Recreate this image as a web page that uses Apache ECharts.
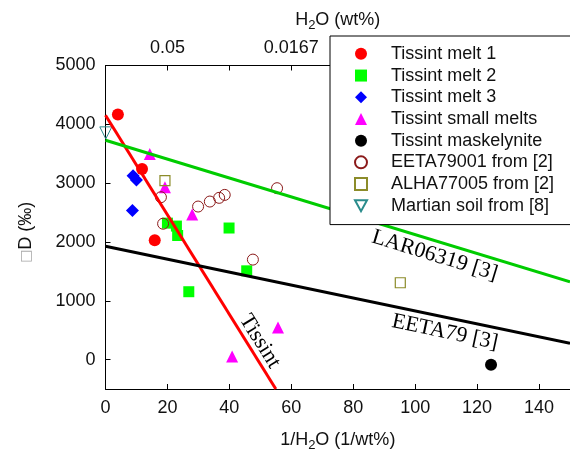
<!DOCTYPE html>
<html><head><meta charset="utf-8">
<script src="https://cdn.jsdelivr.net/npm/echarts@6/dist/echarts.min.js"></script>
<style>html,body{margin:0;padding:0;background:#fff}#c{width:570px;height:457px}</style>
</head><body><div id="c"></div>
<script>
// ---- data (x = 1/H2O in 1/wt%, y = dD in permil) ----
const melt1 = [[4.0,4166],[11.8,3240],[15.9,2027]];
const melt2 = [[20.0,2320],[22.9,2270],[23.3,2110],[39.9,2237],[26.9,1154],[45.6,1509]];
const melt3 = [[8.9,3127],[10.0,3054],[8.7,2535]];
const smallMelts = [[14.3,3494],[19.2,2931],[28.0,2467],[40.9,54],[55.7,545]];
const maskelynite = [[124.5,-88]];
const eeta79001 = [[17.9,2761],[18.6,2310],[29.9,2602],[33.7,2687],[36.7,2750],[38.5,2800],[55.4,2914],[47.6,1700]];
const alha77005 = [[19.2,3042],[95.2,1306]];
const martianSoil = [[0.1,3855]];
const tissintLine = [[0,4154],[55,-500]];
const lar06319Line = [[0,3730],[150,1323]];
const eeta79Line = [[0,1926],[150,279]];
const xTicks = [0,20,40,60,80,100,120,140];
const yTicks = [0,1000,2000,3000,4000,5000];
const topTickValues = [20,40,60,80,100,120,140];
const topLabelValues = [20,60];
const topLabelTexts = ['0.05','0.0167'];
const legendNames = ['Tissint melt 1','Tissint melt 2','Tissint melt 3','Tissint small melts','Tissint maskelynite','EETA79001 from [2]','ALHA77005 from [2]','Martian soil from [8]'];
const lineLabelTexts = ['Tissint','LAR06319 [3]','EETA79 [3]'];
const lineLabelAnchors = [[49.8,313],[106.3,1768],[109.6,465]];

const SANS = '"Liberation Sans", Arial, sans-serif';
const SERIF = '"Liberation Serif", "Times New Roman", serif';
const TXT = '#111';

function scatter(name, data, symbol, size, style) {
  return { type: 'scatter', name, data, symbol, symbolSize: size, itemStyle: Object.assign({ opacity: 1 }, style), z: 3, silent: true };
}
function line(name, data, color) {
  return { type: 'line', name, data, symbol: 'none', lineStyle: { color, width: 3 }, itemStyle: { color }, z: 4, silent: true, animation: false };
}
const lineLabelRot = [-58, -17, -12];
const lineLabels = lineLabelTexts.map((t, i) => ({
  type: 'scatter', name: 'lbl' + i, data: [lineLabelAnchors[i]], symbolSize: 1, itemStyle: { color: 'rgba(0,0,0,0)' }, z: 5, silent: true,
  label: { show: true, position: 'inside', formatter: t, rotate: lineLabelRot[i], fontFamily: SERIF, fontSize: 22, color: '#000', textBorderWidth: 0, opacity: 1 }
}));
const plain = v => String(v);
const mkAxisLine = () => ({ show: true, onZero: false, lineStyle: { color: '#000', width: 1 } });
const mkTick = vals => ({ show: true, inside: true, length: 5, customValues: vals, lineStyle: { color: '#000', width: 1 } });

const chart = echarts.init(document.getElementById('c'), null, { renderer: 'canvas' });
chart.setOption({
  animation: false,
  backgroundColor: '#fff',
  grid: { left: 105.5, right: -1, top: 65.5, bottom: 65.5, containLabel: false },
  legend: {
    data: legendNames, orient: 'vertical', left: 330, top: 36,
    padding: [7, 40, 8, 24], itemWidth: 12, itemHeight: 12, itemGap: 0,
    backgroundColor: '#fff', borderColor: '#000', borderWidth: 1, borderRadius: 0,
    selectedMode: false, z: 10,
    textStyle: { fontFamily: SANS, fontSize: 18, color: TXT, lineHeight: 21.7, padding: [0, 0, 0, 19] }
  },
  xAxis: [{
    type: 'value', min: 0, max: 150, position: 'bottom', gridIndex: 0,
    name: '1/H{sub|2}O (1/wt%)', nameLocation: 'middle', nameGap: 40,
    nameTextStyle: { fontFamily: SANS, fontSize: 18, color: TXT, rich: { sub: { fontSize: 13, padding: [10, 0, 0, 0], fontFamily: SANS, color: TXT } } },
    axisLine: mkAxisLine(),
    axisTick: mkTick(xTicks),
    axisLabel: { customValues: xTicks, formatter: plain, fontFamily: SANS, fontSize: 18, color: TXT, margin: 10 },
    splitLine: { show: false }
  }, {
    type: 'value', min: 0, max: 150, position: 'top', gridIndex: 0,
    name: 'H{sub|2}O (wt%)', nameLocation: 'middle', nameGap: 34,
    nameTextStyle: { fontFamily: SANS, fontSize: 18, color: TXT, rich: { sub: { fontSize: 13, padding: [10, 0, 0, 0], fontFamily: SANS, color: TXT } } },
    axisLine: mkAxisLine(),
    axisTick: mkTick(topTickValues),
    axisLabel: { customValues: topLabelValues, formatter: v => topLabelTexts[topLabelValues.indexOf(v)] || '', fontFamily: SANS, fontSize: 18, color: TXT, margin: 8 },
    splitLine: { show: false }
  }],
  yAxis: [{
    type: 'value', min: -500, max: 5000, gridIndex: 0,
    name: '{box|□}D (‰)', nameLocation: 'middle', nameGap: 70, nameRotate: 90,
    nameTextStyle: { fontFamily: SANS, fontSize: 18, color: TXT, padding: [0, 10, 0, 0], rich: { box: { fontFamily: 'DejaVu Sans', fontSize: 14, color: '#aaa' } } },
    axisLine: mkAxisLine(),
    axisTick: mkTick(yTicks),
    axisLabel: { customValues: yTicks, formatter: plain, fontFamily: SANS, fontSize: 18, color: TXT, margin: 10 },
    splitLine: { show: false }
  }],
  series: [
    scatter('Tissint melt 1', melt1, 'circle', 12, { color: '#ff0000' }),
    scatter('Tissint melt 2', melt2, 'rect', 11, { color: '#00ff00' }),
    scatter('Tissint melt 3', melt3, 'diamond', 13, { color: '#0000ff' }),
    scatter('Tissint small melts', smallMelts, 'triangle', 12, { color: '#ff00ff' }),
    scatter('Tissint maskelynite', maskelynite, 'circle', 12, { color: '#000000' }),
    scatter('EETA79001 from [2]', eeta79001, 'circle', 11, { color: 'rgba(255,255,255,0)', borderColor: '#8b1a1a', borderWidth: 1 }),
    scatter('ALHA77005 from [2]', alha77005, 'rect', 10, { color: 'rgba(255,255,255,0)', borderColor: '#8c8c2a', borderWidth: 1.2 }),
    scatter('Martian soil from [8]', martianSoil, 'path://M0,0 L10,0 L5,9 Z', 12, { color: 'rgba(255,255,255,0)', borderColor: '#2a8c8c', borderWidth: 1 }),
    line('Tissint fit', tissintLine, '#ff0000'),
    line('LAR06319 fit', lar06319Line, '#00cc00'),
    line('EETA79 fit', eeta79Line, '#000000'),
    ...lineLabels
  ]
});
</script></body></html>
